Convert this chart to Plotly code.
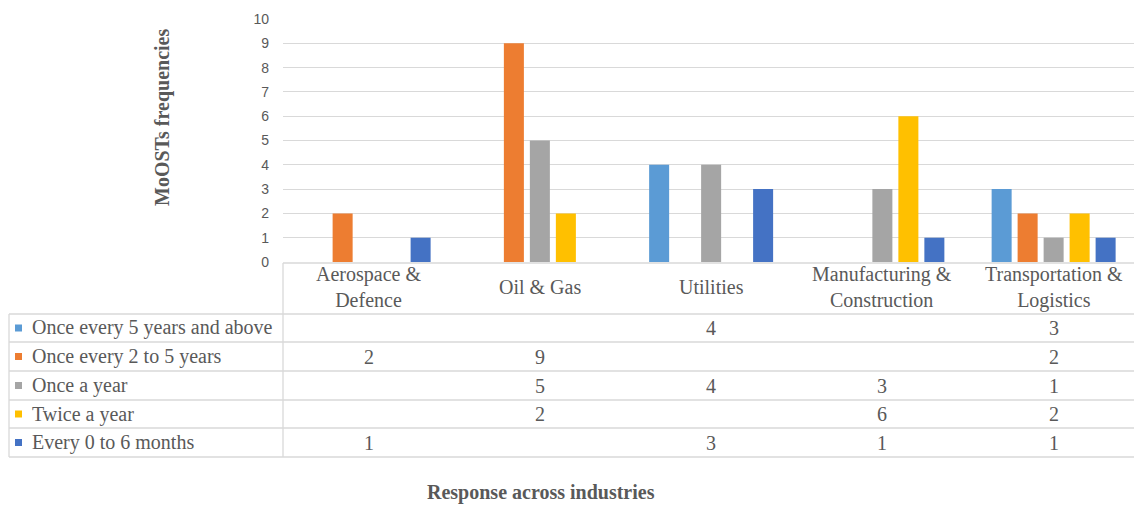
import plotly.graph_objects as go

# Industries (categories) and response series
industries = ["Aerospace &<br>Defence", "Oil & Gas", "Utilities",
              "Manufacturing &<br>Construction", "Transportation &<br>Logistics"]
series_names = ["Once every 5 years and above", "Once every 2 to 5 years",
                "Once a year", "Twice a year", "Every 0 to 6 months"]
every_5_plus = [None, None, 4, None, 3]
every_2_to_5 = [2, 9, None, None, 2]
once_a_year = [None, 5, 4, 3, 1]
twice_a_year = [None, 2, None, 6, 2]
every_0_to_6m = [1, None, 3, 1, 1]
series_values = [every_5_plus, every_2_to_5, once_a_year, twice_a_year, every_0_to_6m]
colors = ["#5B9BD5", "#ED7D31", "#A5A5A5", "#FFC000", "#4472C4"]
y_ticks = list(range(0, 11))

W, H = 1134, 505
ML, MR, MT, MB = 283, 0, 19, 243
PW, PH = W - ML - MR, H - MT - MB
CAT_PX = 171.25  # pixel width of one category column


def px_x(X):
    return (X - ML) / PW


def px_y(Y):
    return (MT + PH - Y) / PH


TEXT = "#595959"
GRID = "#D9D9D9"
SERIF = "Liberation Serif, Times New Roman, serif"
FS = 20

fig = go.Figure()
xs = list(range(len(industries)))
for name, vals, col in zip(series_names, series_values, colors):
    fig.add_trace(go.Bar(x=xs, y=vals, name=name, marker_color=col,
                         marker_line_width=0, showlegend=False))

x_right = -0.5 + PW / CAT_PX
fig.update_layout(
    width=W, height=H,
    margin=dict(l=ML, r=MR, t=MT, b=MB),
    paper_bgcolor="white", plot_bgcolor="white",
    barmode="group", bargap=0.241, bargroupgap=0.23,
    xaxis=dict(range=[-0.5, x_right], showticklabels=False, showgrid=False,
               zeroline=False, showline=False, ticks=""),
    yaxis=dict(range=[0, 10], tickvals=y_ticks, showgrid=True, gridcolor=GRID,
               gridwidth=1, zeroline=False, showline=False, ticks="",
               tickfont=dict(family="Liberation Sans, Arial, sans-serif",
                             size=14, color=TEXT),
               ticklabelstandoff=13),
)

shapes = []
# table borders
row_lines = [314, 342, 371, 400, 428, 457]
shapes.append(dict(type="line", xref="paper", yref="paper",
                   x0=0, x1=1, y0=px_y(263), y1=px_y(263),
                   line=dict(color=GRID, width=1.3)))
for Y in row_lines:
    shapes.append(dict(type="line", xref="paper", yref="paper",
                       x0=px_x(9), x1=1, y0=px_y(Y), y1=px_y(Y),
                       line=dict(color=GRID, width=1.3)))
shapes.append(dict(type="line", xref="paper", yref="paper",
                   x0=0, x1=0, y0=px_y(263), y1=px_y(457),
                   line=dict(color=GRID, width=1.3)))
shapes.append(dict(type="line", xref="paper", yref="paper",
                   x0=px_x(9), x1=px_x(9), y0=px_y(314), y1=px_y(457),
                   line=dict(color=GRID, width=1.3)))

annotations = []
# category labels in the header row
for i, lab in enumerate(industries):
    annotations.append(dict(x=i, xref="x", y=px_y(287), yref="paper",
                            text=lab, showarrow=False, xanchor="center",
                            yanchor="middle",
                            font=dict(family=SERIF, size=FS, color=TEXT)))

# table rows: legend key, series name and values
for r, (name, vals, col) in enumerate(zip(series_names, series_values, colors)):
    top, bot = row_lines[r], row_lines[r + 1]
    yc = (top + bot) / 2
    shapes.append(dict(type="rect", xref="paper", yref="paper",
                       x0=px_x(15), x1=px_x(22), y0=px_y(yc - 3.5), y1=px_y(yc + 3.5),
                       fillcolor=col, line=dict(width=0)))
    annotations.append(dict(x=px_x(30), xref="paper", y=px_y(yc), yref="paper",
                            text=name, showarrow=False, xanchor="left",
                            yanchor="middle",
                            font=dict(family=SERIF, size=FS, color=TEXT)))
    for i, v in enumerate(vals):
        if v is None:
            continue
        annotations.append(dict(x=i, xref="x", y=px_y(yc), yref="paper",
                                text=str(v), showarrow=False, xanchor="center",
                                yanchor="middle",
                                font=dict(family=SERIF, size=FS, color=TEXT)))

# axis titles
annotations.append(dict(x=px_x(162), xref="paper", y=px_y(118), yref="paper",
                        text="<b>MoOSTs frequencies</b>", textangle=-90,
                        showarrow=False, xanchor="center", yanchor="middle",
                        font=dict(family=SERIF, size=FS, color=TEXT)))
annotations.append(dict(x=px_x(541), xref="paper", y=px_y(492), yref="paper",
                        text="<b>Response across industries</b>",
                        showarrow=False, xanchor="center", yanchor="middle",
                        font=dict(family=SERIF, size=FS, color=TEXT)))

fig.update_layout(shapes=shapes, annotations=annotations)
fig.write_html("out.html")
